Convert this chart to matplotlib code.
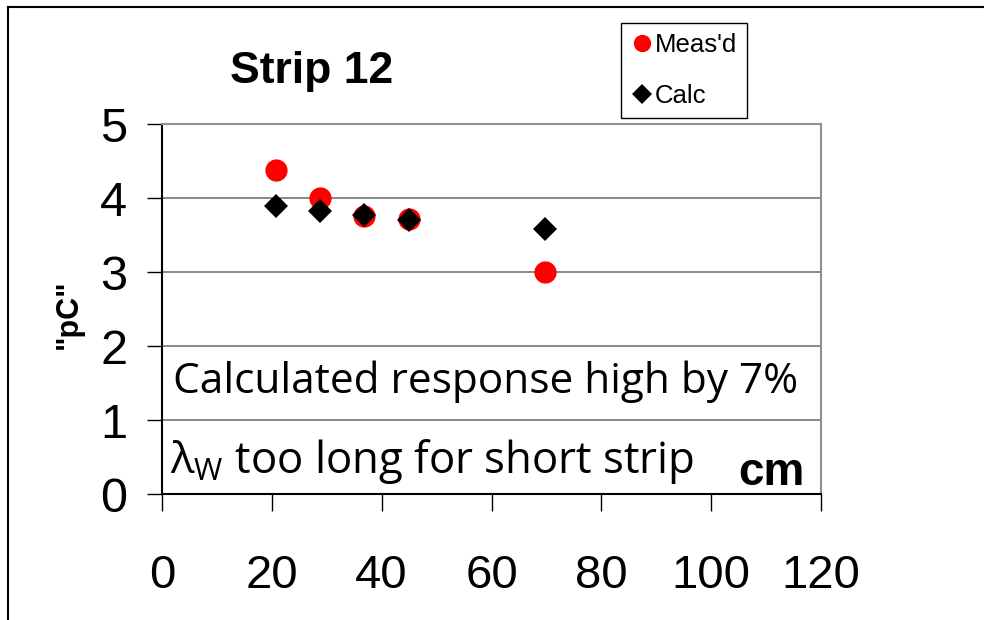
import matplotlib
matplotlib.use('Agg')
import matplotlib.pyplot as plt
from matplotlib.lines import Line2D

# strip length (cm) and charge ("pC")
length_cm = [20.8, 28.7, 36.8, 45.0, 69.8]
measured = [4.38, 4.00, 3.76, 3.71, 3.00]
calculated = [3.89, 3.83, 3.77, 3.70, 3.58]

x_ticks = [0, 20, 40, 60, 80, 100, 120]
y_ticks = [0, 1, 2, 3, 4, 5]

plt.rcParams['font.family'] = ['Liberation Sans', 'DejaVu Sans']
plt.rcParams['mathtext.fontset'] = 'custom'
plt.rcParams['mathtext.rm'] = 'Open Sans'
plt.rcParams['mathtext.it'] = 'Open Sans'

fig = plt.figure(figsize=(9.84, 6.2), dpi=100)
ax = fig.add_axes([162/984, 126/620, 659/984, 370/620])

ax.plot(length_cm, measured, 'o', color='#ff0000', ms=16, mew=0, label="Meas'd")
ax.plot(length_cm, calculated, 'D', color='black', ms=12.5, mew=0, label='Calc')

ax.set_xlim(0, 120)
ax.set_ylim(0, 5)
ax.set_xticks(x_ticks)
ax.set_yticks(y_ticks)
ax.tick_params(axis='x', direction='out', length=12, width=1, pad=31, labelsize=34)
ax.tick_params(axis='y', direction='out', length=11, width=1, pad=14, labelsize=35)

ax.yaxis.grid(True, color='#808080', lw=1.3)
ax.set_axisbelow(True)
for side in ['left', 'bottom']:
    ax.spines[side].set_color('black')
    ax.spines[side].set_linewidth(1.5)
for side in ['right', 'top']:
    ax.spines[side].set_color('#909090')
    ax.spines[side].set_linewidth(1.5)

# notes inside the plot
ax.text(0.0167, 0.273, 'Calculated response high by 7%', transform=ax.transAxes,
        fontsize=30.5, family='Open Sans', ha='left', va='baseline')
ax.text(0.012, 0.057, r'$\lambda_{\mathrm{W}}$ too long for short strip', transform=ax.transAxes,
        fontsize=31.5, family='Open Sans', ha='left', va='baseline')
ax.text(0.874, 0.024, 'cm', transform=ax.transAxes, fontsize=33, weight='bold',
        ha='left', va='baseline')

fig.text(312/984, 1 - 83/620, 'Strip 12', fontsize=32, weight='bold', ha='center', va='baseline')
fig.text(69/984, 1 - 314/620, '"pC"', fontsize=22, weight='bold', rotation=90,
         ha='center', va='center')

leg = fig.legend(loc='upper left', bbox_to_anchor=(621/984, 1 - 23/620), borderaxespad=0,
                 fontsize=18.5, markerscale=0.78, handlelength=0.9, handletextpad=0.05,
                 borderpad=0.38, labelspacing=1.05, fancybox=False, framealpha=1,
                 edgecolor='black', numpoints=1)
leg.get_frame().set_linewidth(1.0)

# outer frame: only the left and top edges show
fig.add_artist(Line2D([8/984, 8/984], [0, 613/620], transform=fig.transFigure, color='black', lw=1.5))
fig.add_artist(Line2D([8/984, 1], [613/620, 613/620], transform=fig.transFigure, color='black', lw=1.5))

fig.savefig('out.png', dpi=100)
